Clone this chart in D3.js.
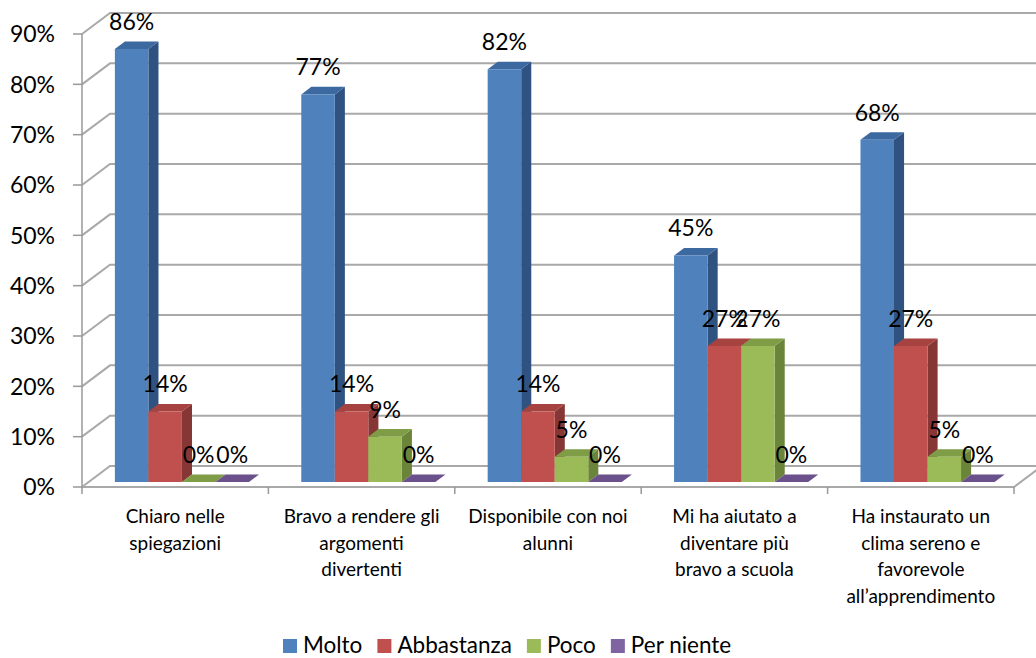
<!DOCTYPE html>
<html>
<head>
<meta charset="utf-8">
<script src="https://cdn.jsdelivr.net/npm/d3@7"></script>
<style>
  html, body { margin: 0; padding: 0; background: #ffffff; }
  svg { display: block; font-family: Lato, "Open Sans", sans-serif; }
</style>
</head>
<body>
<svg id="chart" width="1036" height="658"></svg>
<script>
// Survey answers (percent of respondents)
const categories = [
  "Chiaro nelle spiegazioni",
  "Bravo a rendere gli argomenti divertenti",
  "Disponibile con noi alunni",
  "Mi ha aiutato a diventare più bravo a scuola",
  "Ha instaurato un clima sereno e favorevole all’apprendimento"
];
const categoryLines = [
  ["Chiaro nelle", "spiegazioni"],
  ["Bravo a rendere gli", "argomenti", "divertenti"],
  ["Disponibile con noi", "alunni"],
  ["Mi ha aiutato a", "diventare più", "bravo a scuola"],
  ["Ha instaurato un", "clima sereno e", "favorevole", "all’apprendimento"]
];
const seriesNames = ["Molto", "Abbastanza", "Poco", "Per niente"];
const molto      = [86, 77, 82, 45, 68];
const abbastanza = [14, 14, 14, 27, 27];
const poco       = [0, 9, 5, 27, 5];
const perNiente  = [0, 0, 0, 0, 0];
const yTicks = [0, 10, 20, 30, 40, 50, 60, 70, 80, 90];

const seriesValues = [molto, abbastanza, poco, perNiente];

// Face colours per series: front, top, side
const palette = {
  "Molto":      { front: "#4f81bd", top: "#3d69a1", side: "#2f5281" },
  "Abbastanza": { front: "#c0504d", top: "#a6423f", side: "#863634" },
  "Poco":       { front: "#9bbb59", top: "#7f9d47", side: "#6a843a" },
  "Per niente": { front: "#8064a2", top: "#6b518c", side: "#574173" }
};

const svg = d3.select("#chart");

// Oblique 3D frame: front plane plus a depth offset toward the back wall
const DX = 28, DY = -21;
const D0 = 0.24, D1 = 0.60;   // bar front / back depth

const x = d3.scaleBand().domain(categories).range([82, 1014]).paddingInner(0).paddingOuter(0);
const xs = d3.scaleBand().domain(seriesNames).range([0, x.bandwidth()]).paddingInner(0).paddingOuter(0.78);
const y = d3.scaleLinear().domain([0, 90]).range([487, 34]);

const P = (px, v, d) => [px + DX * d, y(v) + DY * d];
const poly = pts => "M" + pts.map(p => p.join(",")).join("L") + "Z";

const grid = svg.append("g").attr("fill", "none").attr("stroke", "#a9a9a9").attr("stroke-width", 2);
const xLeft = x.range()[0], xRight = x.range()[1];

// Back wall gridlines and side wall diagonals
yTicks.forEach(t => {
  const a = P(xLeft, t, 0), b = P(xLeft, t, 1), c = P(xRight + 60, t, 1);
  grid.append("path").attr("d", `M${a}L${b}L${c}`);
});

// Floor outline (front edge and right diagonal)
grid.append("path")
  .attr("d", `M${P(xLeft, 0, 0)}L${P(xRight, 0, 0)}L${P(xRight, 0, 1)}`);

// Value axis (front-left edge) with tick marks
const axisG = svg.append("g").attr("stroke", "#999999").attr("stroke-width", 1.5).attr("fill", "none");
axisG.append("line").attr("x1", xLeft).attr("x2", xLeft).attr("y1", y(0)).attr("y2", y(90));
yTicks.forEach(t => {
  axisG.append("line").attr("x1", xLeft - 9).attr("x2", xLeft).attr("y1", y(t)).attr("y2", y(t));
});
// Category tick marks
d3.range(categories.length + 1).forEach(i => {
  const px = xLeft + i * x.step();
  axisG.append("line").attr("x1", px).attr("x2", px).attr("y1", y(0)).attr("y2", y(0) + 7);
});

// Tick labels
svg.append("g").selectAll("text").data(yTicks).join("text")
  .attr("x", 55).attr("y", d => y(d))
  .attr("dy", "0.36em")
  .attr("text-anchor", "end")
  .attr("font-size", 23)
  .attr("fill", "#000")
  .text(d => d + "%");

// Category labels
const catG = svg.append("g").attr("font-size", 19).attr("fill", "#000").attr("text-anchor", "middle");
categories.forEach((c, i) => {
  const cx = x(c) + x.bandwidth() / 2;
  const t = catG.append("text").attr("x", cx).attr("y", 523);
  categoryLines[i].forEach((ln, k) => {
    t.append("tspan").attr("x", cx).attr("y", 523 + k * 26.5).text(ln);
  });
});

// Bars: drawn left to right so each front face covers the previous side face
const bars = [];
categories.forEach((c, i) => {
  seriesNames.forEach((s, j) => {
    bars.push({ cat: c, series: s, value: seriesValues[j][i] });
  });
});

const barG = svg.append("g");
bars.forEach(b => {
  const x0 = x(b.cat) + xs(b.series), x1 = x0 + xs.bandwidth();
  const col = palette[b.series];
  const g = barG.append("g");
  if (b.value > 0) {
    g.append("path").attr("fill", col.side)
      .attr("d", poly([P(x1, 0, D0), P(x1, 0, D1), P(x1, b.value, D1), P(x1, b.value, D0)]));
  }
  g.append("path").attr("fill", col.top)
    .attr("d", poly([P(x0, b.value, D0), P(x1, b.value, D0), P(x1, b.value, D1), P(x0, b.value, D1)]));
  if (b.value > 0) {
    g.append("path").attr("fill", col.front)
      .attr("d", poly([P(x0, 0, D0), P(x1, 0, D0), P(x1, b.value, D0), P(x0, b.value, D0)]));
  }
});

// Data labels
svg.append("g").selectAll("text").data(bars).join("text")
  .attr("x", d => P(x(d.cat) + xs(d.series) + xs.bandwidth() / 2, d.value, D0)[0])
  .attr("y", d => P(0, d.value, D0)[1] - 19)
  .attr("text-anchor", "middle")
  .attr("font-size", 23)
  .attr("fill", "#000")
  .text(d => d.value + "%");

// Legend
const legend = svg.append("g").attr("font-size", 22.5);
let lx = 283;
seriesNames.forEach(s => {
  const item = legend.append("g").attr("transform", `translate(${lx},0)`);
  item.append("rect").attr("x", 0).attr("y", 639).attr("width", 14).attr("height", 14)
    .attr("fill", palette[s].front);
  const t = item.append("text").attr("x", 20).attr("y", 652.5).attr("fill", "#000").text(s);
  lx += 20 + t.node().getComputedTextLength() + 15;
});
</script>
</body>
</html>
